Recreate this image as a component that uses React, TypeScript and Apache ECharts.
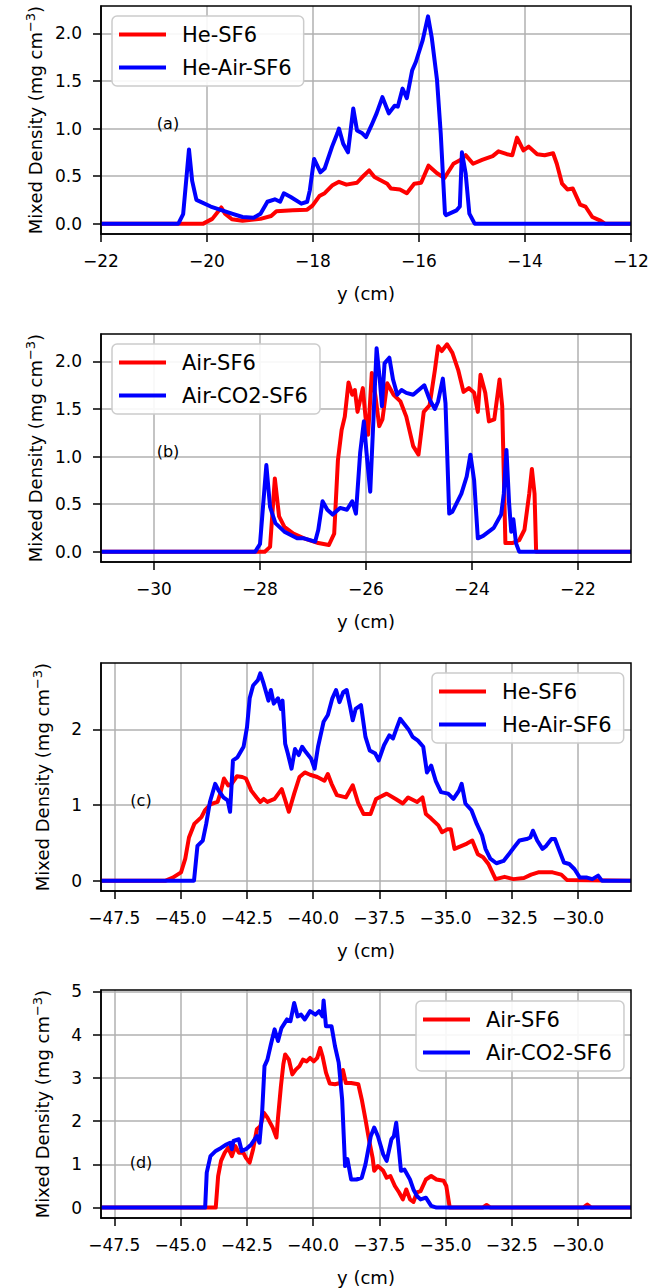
import React, { useEffect, useRef } from 'react';
import * as echarts from 'echarts';

// ---------- Panel (a): He-SF6 vs He-Air-SF6 ----------
const aHeSF6X = [-22, -20.07, -19.9, -19.73, -19.66, -19.53, -19.33, -18.99, -18.79, -18.69, -18.38, -18.11, -18.01, -17.88, -17.78, -17.64, -17.51, -17.37, -17.17, -17.07, -16.94, -16.84, -16.6, -16.53, -16.36, -16.23, -16.09, -15.96, -15.82, -15.66, -15.52, -15.35, -15.22, -15.12, -14.98, -14.81, -14.61, -14.5, -14.34, -14.24, -14.15, -14.03, -13.93, -13.77, -13.63, -13.47, -13.4, -13.3, -13.2, -13.1, -12.96, -12.86, -12.73, -12.59, -12.49, -12];
const aHeSF6Y = [0, 0, 0.05, 0.17, 0.105, 0.046, 0.03, 0.05, 0.08, 0.13, 0.14, 0.147, 0.19, 0.29, 0.32, 0.4, 0.44, 0.41, 0.43, 0.49, 0.56, 0.49, 0.42, 0.37, 0.36, 0.32, 0.42, 0.43, 0.61, 0.53, 0.48, 0.63, 0.67, 0.72, 0.63, 0.67, 0.71, 0.76, 0.73, 0.72, 0.905, 0.77, 0.81, 0.73, 0.72, 0.74, 0.63, 0.42, 0.36, 0.37, 0.2, 0.18, 0.07, 0.035, 0, 0];
const aHeAirSF6X = [-22, -20.54, -20.45, -20.34, -20.28, -20.2, -19.93, -19.53, -19.33, -19.12, -18.99, -18.86, -18.72, -18.62, -18.55, -18.42, -18.22, -18.11, -18.06, -17.98, -17.86, -17.78, -17.64, -17.54, -17.51, -17.43, -17.34, -17.24, -17.17, -17.07, -17.0, -16.9, -16.8, -16.69, -16.57, -16.46, -16.4, -16.31, -16.23, -16.13, -16.06, -15.93, -15.83, -15.76, -15.66, -15.59, -15.51, -15.49, -15.29, -15.23, -15.19, -15.12, -15.05, -14.95, -12];
const aHeAirSF6Y = [0, 0, 0.1, 0.78, 0.45, 0.25, 0.18, 0.105, 0.07, 0.063, 0.105, 0.23, 0.256, 0.23, 0.32, 0.28, 0.21, 0.23, 0.35, 0.68, 0.54, 0.58, 0.81, 0.95, 1.0, 0.84, 0.75, 1.21, 0.98, 0.95, 0.91, 1.03, 1.16, 1.33, 1.16, 1.24, 1.23, 1.42, 1.32, 1.61, 1.7, 1.93, 2.18, 1.96, 1.51, 0.95, 0.105, 0.09, 0.14, 0.18, 0.75, 0.53, 0.105, 0, 0];

// ---------- Panel (b): Air-SF6 vs Air-CO2-SF6 ----------
const bAirSF6X = [-31, -27.91, -27.81, -27.72, -27.64, -27.54, -27.37, -27.17, -26.9, -26.7, -26.6, -26.53, -26.46, -26.4, -26.33, -26.26, -26.21, -26.16, -26.06, -26.01, -25.96, -25.89, -25.82, -25.75, -25.69, -25.6, -25.48, -25.35, -25.24, -25.11, -25.01, -24.91, -24.8, -24.7, -24.64, -24.57, -24.47, -24.37, -24.26, -24.16, -24.06, -23.96, -23.89, -23.84, -23.75, -23.68, -23.58, -23.48, -23.43, -23.37, -23.24, -23.11, -23.01, -22.92, -22.87, -22.82, -22.79, -21];
const bAirSF6Y = [0, 0, 0.05, 0.77, 0.37, 0.26, 0.19, 0.14, 0.09, 0.07, 0.19, 0.96, 1.28, 1.42, 1.78, 1.65, 1.7, 1.47, 1.72, 1.42, 1.23, 1.88, 1.63, 1.32, 1.39, 1.77, 1.65, 1.58, 1.42, 1.11, 1.02, 1.47, 1.54, 1.91, 2.16, 2.11, 2.18, 2.09, 1.91, 1.68, 1.72, 1.67, 1.47, 1.86, 1.67, 1.37, 1.39, 1.81, 1.53, 0.09, 0.09, 0.12, 0.23, 0.61, 0.87, 0.61, 0, 0];
const bAirCO2SF6X = [-31, -28.09, -28.0, -27.88, -27.81, -27.71, -27.54, -27.3, -27.17, -26.96, -26.9, -26.82, -26.73, -26.63, -26.49, -26.36, -26.26, -26.19, -26.11, -26.04, -25.99, -25.92, -25.86, -25.8, -25.74, -25.7, -25.65, -25.56, -25.49, -25.41, -25.33, -25.24, -25.11, -24.9, -24.8, -24.7, -24.64, -24.55, -24.5, -24.43, -24.37, -24.2, -24.1, -24.03, -23.96, -23.89, -23.79, -23.59, -23.45, -23.4, -23.35, -23.3, -23.26, -23.22, -23.17, -23.11, -21];
const bAirCO2SF6Y = [0, 0, 0.08, 0.91, 0.47, 0.3, 0.21, 0.14, 0.14, 0.105, 0.23, 0.53, 0.44, 0.39, 0.46, 0.44, 0.53, 0.4, 1.04, 1.37, 1.04, 0.63, 1.39, 2.14, 1.81, 1.53, 1.98, 2.04, 1.81, 1.65, 1.7, 1.67, 1.65, 1.75, 1.6, 1.5, 1.58, 1.82, 1.56, 0.4, 0.42, 0.61, 0.79, 1.02, 0.75, 0.14, 0.165, 0.25, 0.39, 0.61, 1.07, 0.51, 0.21, 0.34, 0.09, 0, 0];

// ---------- Panel (c): He-SF6 vs He-Air-SF6 ----------
const cHeSF6X = [-48, -45.56, -45.29, -44.98, -44.82, -44.68, -44.48, -44.21, -44.08, -43.87, -43.6, -43.5, -43.36, -43.2, -43.07, -42.87, -42.67, -42.53, -42.33, -42.13, -41.99, -41.86, -41.72, -41.45, -41.18, -40.91, -40.71, -40.51, -40.31, -40.11, -39.84, -39.57, -39.44, -39.3, -39.1, -38.76, -38.5, -38.29, -38.09, -37.83, -37.62, -37.22, -36.88, -36.61, -36.41, -36.07, -35.87, -35.74, -35.54, -35.27, -35.13, -34.93, -34.8, -34.66, -34.39, -34.19, -33.99, -33.78, -33.58, -33.38, -33.11, -32.77, -32.44, -32.04, -31.77, -31.5, -30.96, -30.63, -30.42, -28];
const cHeSF6Y = [0, 0, 0.04, 0.11, 0.29, 0.57, 0.75, 0.84, 0.93, 1.01, 1.04, 1.15, 1.35, 1.26, 1.28, 1.38, 1.37, 1.35, 1.19, 1.1, 1.04, 1.08, 1.04, 1.08, 1.21, 0.91, 1.15, 1.37, 1.43, 1.4, 1.37, 1.32, 1.41, 1.28, 1.13, 1.1, 1.26, 1.02, 0.88, 0.88, 1.08, 1.15, 1.08, 1.02, 1.1, 1.04, 1.1, 0.88, 0.82, 0.73, 0.64, 0.68, 0.68, 0.42, 0.46, 0.49, 0.53, 0.35, 0.31, 0.22, 0.02, 0.05, 0.02, 0.035, 0.08, 0.11, 0.11, 0.08, 0.01, 0];
const cHeAirSF6X = [-48, -44.49, -44.36, -44.16, -44.03, -43.89, -43.69, -43.56, -43.38, -43.22, -43.13, -43.02, -42.85, -42.62, -42.49, -42.39, -42.26, -42.08, -41.99, -41.86, -41.68, -41.59, -41.48, -41.32, -41.21, -41.15, -41.05, -40.95, -40.81, -40.68, -40.54, -40.41, -40.27, -40.07, -39.94, -39.81, -39.6, -39.44, -39.27, -39.13, -39.0, -38.86, -38.73, -38.6, -38.5, -38.39, -38.19, -38.02, -37.86, -37.65, -37.52, -37.32, -37.12, -36.98, -36.85, -36.71, -36.58, -36.38, -36.24, -36.04, -35.84, -35.7, -35.54, -35.37, -35.17, -34.9, -34.7, -34.49, -34.39, -34.25, -34.02, -33.82, -33.62, -33.49, -33.31, -33.08, -32.81, -32.61, -32.41, -32.21, -31.94, -31.8, -31.7, -31.54, -31.34, -31.2, -31.0, -30.87, -30.73, -30.53, -30.33, -30.13, -29.93, -29.66, -29.46, -29.24, -29.1, -28];
const cHeAirSF6Y = [0, 0, 0.46, 0.53, 0.75, 1.04, 1.28, 1.19, 1.1, 1.06, 0.91, 1.59, 1.63, 1.77, 2.03, 2.41, 2.58, 2.65, 2.74, 2.6, 2.38, 2.52, 2.34, 2.41, 2.27, 2.38, 1.81, 1.68, 1.48, 1.74, 1.66, 1.77, 1.7, 1.61, 1.48, 1.77, 2.1, 2.19, 2.41, 2.52, 2.36, 2.49, 2.52, 2.3, 2.12, 2.27, 2.32, 1.9, 1.72, 1.68, 1.59, 1.79, 1.92, 1.88, 2.01, 2.14, 2.08, 1.99, 1.9, 1.85, 1.77, 1.43, 1.52, 1.32, 1.17, 1.15, 1.08, 1.19, 1.28, 1.02, 0.93, 0.75, 0.6, 0.42, 0.29, 0.23, 0.26, 0.35, 0.44, 0.53, 0.55, 0.57, 0.66, 0.53, 0.42, 0.46, 0.55, 0.55, 0.42, 0.24, 0.22, 0.15, 0.04, 0.04, 0.02, 0.066, 0, 0];

// ---------- Panel (d): Air-SF6 vs Air-CO2-SF6 ----------
const dAirSF6X = [-48, -44.0, -43.67, -43.58, -43.47, -43.33, -43.2, -43.06, -42.93, -42.8, -42.63, -42.53, -42.39, -42.26, -42.12, -41.99, -41.85, -41.72, -41.52, -41.38, -41.32, -41.21, -41.12, -41.05, -40.91, -40.78, -40.65, -40.51, -40.38, -40.24, -40.11, -39.97, -39.84, -39.73, -39.64, -39.51, -39.37, -39.17, -38.97, -38.87, -38.76, -38.56, -38.29, -38.16, -38.02, -37.89, -37.75, -37.69, -37.55, -37.35, -37.22, -37.08, -36.91, -36.75, -36.61, -36.48, -36.34, -36.21, -36.08, -35.94, -35.74, -35.54, -35.34, -35.07, -34.97, -34.84, -33.6, -33.45, -33.3, -29.8, -29.65, -29.5, -28];
const dAirSF6Y = [0, 0, 0, 0.73, 1.08, 1.27, 1.38, 1.19, 1.42, 1.27, 1.27, 1.15, 1.04, 1.35, 1.81, 1.88, 2.19, 2.08, 1.85, 1.62, 2.08, 2.81, 3.31, 3.54, 3.42, 3.08, 3.19, 3.27, 3.42, 3.38, 3.46, 3.38, 3.46, 3.69, 3.5, 3.12, 2.87, 2.85, 2.88, 3.18, 2.88, 2.88, 2.85, 2.5, 2.04, 1.58, 1.15, 0.85, 0.96, 0.85, 0.69, 0.73, 0.5, 0.35, 0.19, 0.42, 0.19, 0.13, 0.35, 0.38, 0.65, 0.73, 0.65, 0.62, 0.5, 0, 0, 0.06, 0, 0, 0.07, 0, 0];
const dAirCO2SF6X = [-48, -44.07, -44.01, -43.87, -43.67, -43.47, -43.27, -43.13, -43.06, -43.0, -42.8, -42.69, -42.53, -42.33, -42.12, -42.02, -41.92, -41.83, -41.72, -41.59, -41.45, -41.32, -41.19, -40.98, -40.85, -40.71, -40.58, -40.45, -40.31, -40.11, -39.91, -39.77, -39.64, -39.6, -39.51, -39.3, -39.17, -39.03, -38.9, -38.79, -38.7, -38.56, -38.36, -38.16, -38.02, -37.82, -37.69, -37.55, -37.35, -37.22, -37.04, -36.95, -36.86, -36.77, -36.68, -36.55, -36.34, -36.21, -36.08, -35.94, -35.74, -35.54, -35.34, -28];
const dAirCO2SF6Y = [0, 0, 0.81, 1.19, 1.31, 1.38, 1.46, 1.5, 1.35, 1.54, 1.58, 1.31, 1.35, 1.46, 1.65, 1.5, 2.19, 3.27, 3.42, 3.77, 4.12, 3.85, 4.15, 4.35, 4.31, 4.73, 4.42, 4.46, 4.35, 4.54, 4.46, 4.54, 4.42, 4.79, 4.19, 4.19, 3.73, 3.35, 2.5, 0.96, 1.12, 0.65, 0.65, 0.69, 1.0, 1.65, 1.85, 1.65, 1.23, 1.08, 1.58, 1.65, 1.96, 1.42, 0.85, 0.88, 0.65, 0.42, 0.27, 0.19, 0.23, 0.04, 0, 0];

// ---------- Ticks ----------
const xTicksA = [-22, -20, -18, -16, -14, -12];
const xTicksB = [-30, -28, -26, -24, -22];
const xTicksCD = [-47.5, -45, -42.5, -40, -37.5, -35, -32.5, -30];
const yTicksAB = [0, 0.5, 1, 1.5, 2];
const yTicksC = [0, 1, 2];
const yTicksD = [0, 1, 2, 3, 4, 5];

const panelTags = ['(a)', '(b)', '(c)', '(d)'];
const RED = '#ff0000';
const BLUE = '#0000ff';
const FONT = 'DejaVu Sans';

const pairs = (xs: number[], ys: number[]) => xs.map((x, i) => [x, ys[i]]);
const fmt = (dec: number) => (v: number) => {
  const s = Math.abs(v).toFixed(dec);
  return (v < 0 ? '\u2212' : '') + s;
};

const panels = [
  {
    top: 6, xMin: -22, xMax: -12, yMin: -0.109, yMax: 2.289, xTicks: xTicksA, yTicks: yTicksAB, xDec: 0, yDec: 1, yGap: 55,
    series: [
      { name: 'He-SF6', color: RED, xs: aHeSF6X, ys: aHeSF6Y },
      { name: 'He-Air-SF6', color: BLUE, xs: aHeAirSF6X, ys: aHeAirSF6Y },
    ],
    legendLeft: 112, legendTop: 16, tagX: 168, tagY: 123,
  },
  {
    top: 334, xMin: -31, xMax: -21, yMin: -0.109, yMax: 2.289, xTicks: xTicksB, yTicks: yTicksAB, xDec: 0, yDec: 1, yGap: 55,
    series: [
      { name: 'Air-SF6', color: RED, xs: bAirSF6X, ys: bAirSF6Y },
      { name: 'Air-CO2-SF6', color: BLUE, xs: bAirCO2SF6X, ys: bAirCO2SF6Y },
    ],
    legendLeft: 112, legendTop: 344, tagX: 168, tagY: 451,
  },
  {
    top: 663, xMin: -48, xMax: -28, yMin: -0.137, yMax: 2.877, xTicks: xTicksCD, yTicks: yTicksC, xDec: 1, yDec: 0, yGap: 48,
    series: [
      { name: 'He-SF6', color: RED, xs: cHeSF6X, ys: cHeSF6Y },
      { name: 'He-Air-SF6', color: BLUE, xs: cHeAirSF6X, ys: cHeAirSF6Y },
    ],
    legendLeft: 432, legendTop: 673, tagX: 141, tagY: 800,
  },
  {
    top: 990, xMin: -48, xMax: -28, yMin: -0.24, yMax: 5.03, xTicks: xTicksCD, yTicks: yTicksD, xDec: 1, yDec: 0, yGap: 48,
    series: [
      { name: 'Air-SF6', color: RED, xs: dAirSF6X, ys: dAirSF6Y },
      { name: 'Air-CO2-SF6', color: BLUE, xs: dAirCO2SF6X, ys: dAirCO2SF6Y },
    ],
    legendLeft: 416, legendTop: 1001, tagX: 141, tagY: 1162,
  },
];

export default function App() {
  const ref = useRef<HTMLDivElement>(null);
  useEffect(() => {
    if (!ref.current) return;
    const chart = echarts.init(ref.current, undefined, { renderer: 'svg' });
    const grid: any[] = [];
    const xAxis: any[] = [];
    const yAxis: any[] = [];
    const series: any[] = [];
    const legend: any[] = [];
    const graphic: any[] = [];
    panels.forEach((p, i) => {
      grid.push({
        left: 101, top: p.top, width: 530, height: 228,
        show: true, borderColor: '#000', borderWidth: 1.5, backgroundColor: 'transparent', z: 10,
      });
      xAxis.push({
        type: 'value', gridIndex: i, min: p.xMin, max: p.xMax, position: 'bottom',
        axisLine: { show: true, onZero: false, lineStyle: { color: '#000', width: 1.5 } },
        axisTick: { show: true, length: 8, lineStyle: { color: '#000', width: 1.5 }, customValues: p.xTicks },
        axisLabel: { show: true, customValues: p.xTicks, formatter: fmt(p.xDec), fontFamily: FONT, fontSize: 17, color: '#000', margin: 18 },
        splitLine: { show: true, lineStyle: { color: '#b0b0b0', width: 1.5 } },
        name: 'y (cm)', nameLocation: 'middle', nameGap: 50,
        nameTextStyle: { fontFamily: FONT, fontSize: 18, color: '#000' },
      });
      yAxis.push({
        type: 'value', gridIndex: i, min: p.yMin, max: p.yMax, position: 'left',
        axisLine: { show: true, onZero: false, lineStyle: { color: '#000', width: 1.5 } },
        axisTick: { show: true, length: 8, lineStyle: { color: '#000', width: 1.5 }, customValues: p.yTicks },
        axisLabel: { show: true, customValues: p.yTicks, formatter: fmt(p.yDec), fontFamily: FONT, fontSize: 17, color: '#000', margin: 19 },
        splitLine: { show: true, lineStyle: { color: '#b0b0b0', width: 1.5 } },
        name: '{t|Mixed Density (mg cm}{s|\u22123}{t|)}', nameLocation: 'middle', nameGap: p.yGap, nameRotate: 90,
        nameTextStyle: {
          fontFamily: FONT, fontSize: 18, color: '#000',
          rich: {
            t: { fontFamily: FONT, fontSize: 18, color: '#000', lineHeight: 22 },
            s: { fontFamily: FONT, fontSize: 13, color: '#000', lineHeight: 13, verticalAlign: 'top' },
          },
        },
      });
      p.series.forEach((s) => {
        series.push({
          type: 'line', name: s.name, xAxisIndex: i, yAxisIndex: i,
          data: pairs(s.xs, s.ys), showSymbol: false, symbol: 'none',
          lineStyle: { color: s.color, width: 4, join: 'round' }, itemStyle: { color: s.color },
          z: 3,
        });
      });
      legend.push({
        orient: 'vertical', left: p.legendLeft, top: p.legendTop,
        data: p.series.map((s) => s.name),
        icon: 'rect', itemWidth: 47, itemHeight: 4, itemGap: 12,
        padding: [8, 12, 8, 7],
        backgroundColor: 'rgba(255,255,255,0.9)', borderColor: '#cccccc', borderWidth: 1.5, borderRadius: 5,
        textStyle: { fontFamily: FONT, fontSize: 21, color: '#000', padding: [0, 0, 0, 11] },
        selectedMode: false, z: 12,
      });
      graphic.push({
        type: 'text', x: p.tagX, y: p.tagY, z: 20,
        style: { text: panelTags[i], fontFamily: FONT, fontSize: 16, fill: '#000', textAlign: 'center', textVerticalAlign: 'middle' },
      });
    });
    chart.setOption({
      animation: false,
      backgroundColor: '#ffffff',
      grid, xAxis, yAxis, series, legend, graphic,
    });
    return () => chart.dispose();
  }, []);
  return <div ref={ref} style={{ position: 'absolute', left: 0, top: 0, width: 664, height: 1288 }} />;
}
